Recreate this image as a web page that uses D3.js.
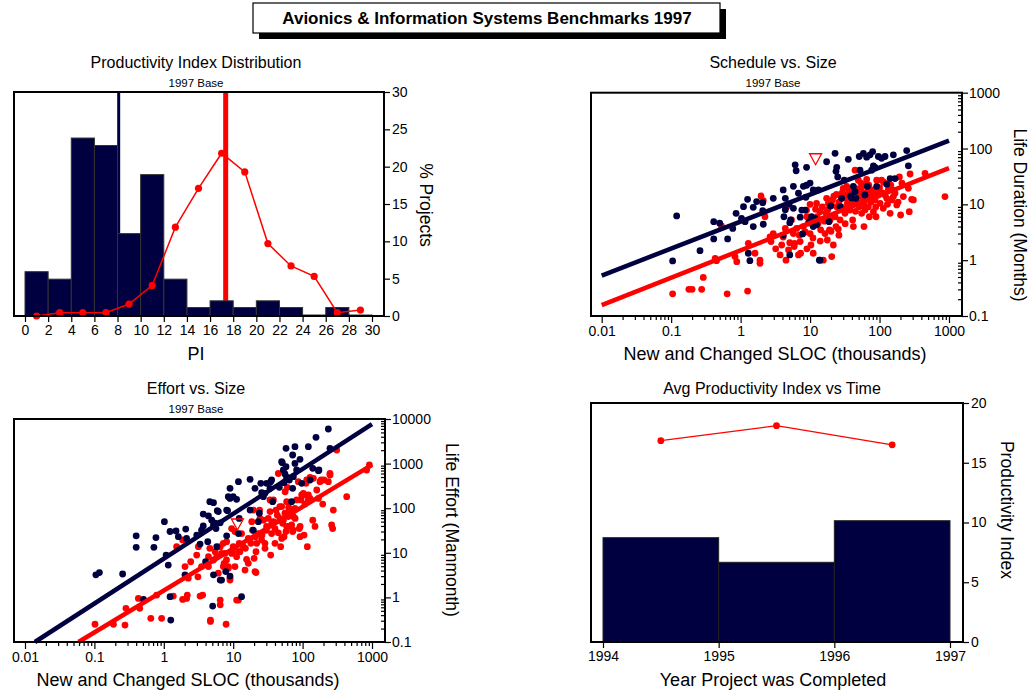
<!DOCTYPE html>
<html>
<head>
<meta charset="utf-8">
<script src="https://cdn.jsdelivr.net/npm/d3@7"></script>
<style>
  body { margin: 0; background: #fff; }
  text { font-family: "Liberation Sans", Arial, sans-serif; fill: #000; }
</style>
</head>
<body>
<svg id="chart" width="1029" height="691"></svg>
<script>
// ---- data ----

// Productivity Index Distribution (bins of width 2)
const piBinStart = [0, 2, 4, 6, 8, 10, 12, 14, 16, 18, 20, 22, 24, 26, 28];
const piPct = [5.8, 4.8, 23.7, 22.7, 10.9, 18.8, 4.8, 1, 1.9, 1, 1.9, 1, 0, 1, 0];
const piCurveX = [1, 3, 5, 7, 9, 11, 13, 15, 17, 19, 21, 23, 25, 27, 29];
const piCurvePct = [0, 0.45, 0.45, 0.45, 1.6, 4.1, 11.9, 17.1, 21.8, 19.3, 9.7, 6.7, 5.3, 0.45, 0.8];
const piMeanNavy = 8.1;
const piMeanRed = 17.35;
const piTicksX = [0, 2, 4, 6, 8, 10, 12, 14, 16, 18, 20, 22, 24, 26, 28, 30];
const piTicksY = [0, 5, 10, 15, 20, 25, 30];

// Schedule vs. Size  [SLOC thousands, months]
const scheduleNavy = [[0.12,6.2],[0.105,0.97],[0.26,1.48],[0.41,4.9],[0.5,4.6],[0.41,2.4],[0.65,2.4],[0.77,3.7],[0.86,6.9],[1.1,9.1],[1.03,5.6],[1.26,12.3],[1.16,4.9],[1.52,4.0],[1.52,8.85],[1.7,11.2],[2.08,10.7],[2.12,4.4],[2.08,7.7],[2.95,12.8],[4.1,18.1],[4.4,12.8],[5.0,10.2],[4.2,6.0],[5.1,4.7],[5.25,5.25],[5.75,21],[6.1,51],[6.3,40],[8.9,46],[6.8,15.8],[7.2,5.9],[7.6,7.9],[8.0,21],[7.8,2.95],[8.5,7.9],[8.9,22],[8.7,13.4],[10,24],[10.5,6.0],[11.1,18.1],[11.1,4.0],[11.8,5.6],[12.4,4.3],[13.2,18.1],[13.6,1.0],[13.9,1.0],[17.3,58],[18.7,4.9],[19.8,9.35],[22.9,82],[23.6,39],[24.2,46],[25,31],[27,9.1],[28.5,12.8],[31,27],[35.5,64],[38.4,14.1],[39.7,12.8],[42,21],[44.4,16.9],[45.8,12.8],[51,72],[52.4,41],[58.5,82],[61.8,14.7],[65.3,70],[66.7,21],[73,77],[77,41],[79.6,88],[81.5,49],[86,46],[91,21],[96,72],[107,67],[120,72],[127,23],[142,29],[158,77],[167,29],[246,92],[260,49],[1.29,1.33],[1.36,0.98],[5.1,1.24],[4.1,2.8],[9.8,4.9],[5.75,8.5],[4.4,8]];
const scheduleRed = [[0.29,0.49],[0.43,1.08],[0.45,0.98],[0.53,4.1],[0.83,1.16],[0.88,0.94],[1.29,2.0],[1.61,1.33],[1.9,1.0],[1.9,0.88],[1.97,14.1],[2.12,11.7],[2.24,6.0],[2.65,2.6],[2.74,2.15],[2.95,3.0],[3.7,1.24],[3.9,1.87],[4.1,2.6],[4.4,3.7],[4.6,9.1],[4.9,1.52],[5.1,2.06],[5.4,5.25],[5.75,3.0],[5.9,1.75],[6.4,3.7],[6.8,1.24],[7.2,2.15],[7.3,1.33],[8.0,4.0],[8.5,3.2],[8.9,7.9],[9.4,4.6],[10,3.0],[10.3,1.87],[11.1,1.33],[11.8,5.25],[12.4,10.4],[12.7,6.0],[13.9,7.4],[14.2,3.5],[15.5,1.0],[16.4,3.0],[17.3,12.8],[17.7,2.3],[18.3,10.4],[19.4,5.25],[20.5,1.16],[21.6,1.87],[22.9,6.0],[23.6,4.0],[24.2,9.1],[25.5,3.6],[27,5.25],[28.5,12.8],[30,19.4],[31.8,6.9],[33.7,21],[34.4,10.4],[37.6,7.9],[39.7,13.8],[41,5.25],[42,4.0],[44.4,41],[45.8,12],[49.5,27],[51,9.1],[52.4,16.9],[55.3,6.9],[58.5,12.8],[59.7,4.0],[61.8,15.8],[65.3,28],[69,9.1],[71.3,6.0],[73,13.8],[77,18.1],[81.5,7.4],[86,12],[89,6.0],[91,27],[96,14.7],[102,10.4],[107,27],[113,8.5],[120,14.7],[127,12.8],[134,18.6],[142,6.9],[150,12],[158,13.8],[167,15.8],[177,9.75],[193,31],[201,6.45],[220,13.8],[260,19.4],[268,7.4],[275,35],[290,12.3],[307,12],[452,36],[875,13.8],[0.105,0.25],[0.18,0.3],[0.2,0.3],[0.275,0.3],[0.64,0.25],[1.26,0.28],[22,14],[26,11],[30,8.5],[35,15],[40,18],[47,11],[55,20],[60,9.5],[68,17],[75,11],[85,15],[95,19],[110,16],[63,22],[52,14],[38,9.8],[29,16],[20,10.5],[17,7],[15,9],[12,8.2],[10,10],[9,6],[14,2.2],[11,2.5],[20,3.3],[32,4.5],[45,7.5],[26,2.8],[18,8],[21,12],[24,15],[28,9],[33,13],[36,17],[43,10],[48,19],[54,24],[57,11],[62,8],[70,22],[80,16],[88,9],[100,20],[115,25],[130,10],[145,22],[160,18],[185,11],[210,24],[16,5],[19,3.5],[13,4.5],[7,2.8],[6,2],[9,1.6],[3.2,1.6],[4.5,1.0]];
const scheduleFitNavy = [[0.01, 0.53], [1000, 139]];
const scheduleFitRed = [[0.01, 0.157], [1000, 44.4]];
const scheduleMarker = [12, 63];

// Effort vs. Size  [SLOC thousands, manmonths]
const effortNavy = [[0.105,3.2],[0.118,3.6],[0.255,3.35],[0.4,24],[0.4,13.3],[0.77,22],[0.72,13.3],[1.02,50],[1.23,30],[1.08,8.9],[1.16,5.3],[1.5,31],[1.62,23],[2.07,34],[2.13,21],[2.02,3.2],[2.98,25],[3.33,15.7],[3.7,40],[3.7,74],[4.4,67],[4.6,140],[4.9,54],[5.2,42],[5.65,35],[5.8,13.7],[6.1,84],[6.5,47],[8.05,91],[9.0,166],[9.0,279],[10,181],[11.2,158],[11.9,394],[11.9,27],[12.2,59],[9.0,3.0],[13.2,1.04],[5.2,3.2],[6.5,2.45],[5.06,0.64],[17.5,444],[19.5,32],[20.6,279],[23,50],[23.8,77],[25.7,223],[27.2,181],[30.3,361],[33.9,279],[35.8,429],[37,140],[46.2,294],[49.9,1100],[52.8,719],[54,374],[55.7,585],[57.7,853],[58.9,467],[60.3,492],[64.4,429],[69.5,140],[71.9,279],[73.5,509],[57.7,2200],[71.9,1560],[77.6,2400],[77.6,1010],[82,719],[91.7,1250],[97,361],[121,2400],[128,429],[156,3880],[172,719],[235,5970],[248,2200],[1.23,1.04],[0.51,0.9],[1.26,0.31],[5.2,133],[5.9,88],[5.5,46],[3.5,32],[4.3,17.8],[4.0,6.3],[6.8,2.45],[7.8,3.8],[140,783],[169,695],[34.7,394],[25,361],[8.5,181],[28.7,215],[17.5,91],[51,1050],[8.3,88],[8.05,24]];
const effortRed = [[0.102,0.25],[0.188,0.25],[0.276,0.24],[0.285,0.57],[0.45,0.57],[0.43,0.95],[0.65,0.34],[0.93,0.34],[0.79,1.13],[1.37,1.07],[1.53,13.7],[1.87,19.4],[2.13,0.95],[2.02,4.9],[1.87,0.9],[2.18,1.13],[2.25,2.7],[2.44,6.3],[2.98,8.9],[3.15,13.7],[3.63,1.13],[4.4,4.9],[4.6,12.6],[4.7,0.31],[5.2,6.9],[5.8,8.2],[6.1,3.5],[6.5,13.7],[6.5,0.68],[6.5,0.87],[6.8,9.7],[7.2,16.3],[7.4,5.8],[7.6,9.7],[7.9,0.25],[8.05,17.8],[8.5,4.9],[9.0,2.7],[9.5,35],[9.8,10.6],[10,13.7],[10.6,30],[11.2,8.2],[11.2,0.87],[12.2,16.3],[12.5,10.6],[13.2,27],[14,13.7],[14.8,4.1],[15.6,7.1],[16.5,21],[17.5,19.4],[18.5,50],[19,32],[19.5,91],[20,7.5],[21.3,10.6],[21.3,3.6],[21.8,16.3],[23,27],[24.3,59],[25.7,19.4],[27.2,54],[28.7,16.3],[30.3,39],[32,59],[33.9,153],[34.7,8.9],[35.8,27],[37.9,50],[40,35],[41.4,91],[43.2,70],[44.7,28],[47.2,59],[48.3,13.7],[49.9,108],[51.6,46],[52.8,54],[54,23],[55.7,77],[57.7,30],[58.9,140],[60.3,294],[62.2,65],[64.4,39],[65.8,91],[69.5,42],[71.9,30],[73.5,65],[77.6,99],[82,153],[86.7,394],[89.7,35],[91.7,23],[97,198],[102.5,215],[105,25],[108,124],[112,361],[114.5,429],[117,13.7],[121,198],[128,166],[140,54],[143,467],[151,39],[160,256],[169,166],[178,394],[195,124],[203,429],[235,394],[248,555],[262,42],[271,35],[277,91],[310,2020],[432,181],[837,719],[916,930],[3.33,1.07],[4.7,0.29],[11.9,0.87],[9,2.45],[44.7,600],[128,492],[248,600],[185,429],[108,198],[121,153],[95,153],[63,104],[59,77],[78,59],[47,54],[36,46],[30,32],[26,25],[21,23],[18,16.3],[15,12.6],[12,10.6],[9.5,9.7],[8,6.9],[7.2,4.9],[5.5,10.6],[4.4,8.2],[3.5,4.9],[3.1,2.9],[8.5,4.5],[10.6,4.9],[16.5,5.8],[20.6,3.8],[28.7,12.6],[40,16.3],[50,21],[59,39],[73,32],[92,39],[47,108],[34,84],[24,91],[38,153],[56,234]];
const effortFitNavy = [[0.0139, 0.1], [1000, 7700]];
const effortFitRed = [[0.059, 0.1], [1000, 935]];
const effortMarker = [11.5, 42];

// Avg Productivity Index vs Time
const yearStart = [1994, 1995, 1996];
const yearPI = [8.73, 6.67, 10.15];
const yearMid = [1994.5, 1995.5, 1996.5];
const yearRedPI = [16.85, 18.1, 16.5];
const yearTicks = [1994, 1995, 1996, 1997];
const yearTicksY = [0, 5, 10, 15, 20];

const logTicksX = [0.01, 0.1, 1, 10, 100, 1000];
const logTicksSchedY = [0.1, 1, 10, 100, 1000];
const logTicksEffortY = [0.1, 1, 10, 100, 1000, 10000];

const NAVY = "#000040";
const RED = "#ff0000";

const svg = d3.select("#chart");

// ---- main title box ----
svg.append("rect").attr("x", 259).attr("y", 9).attr("width", 467).attr("height", 30).attr("fill", "#000");
svg.append("rect").attr("x", 253).attr("y", 3).attr("width", 467).attr("height", 30)
  .attr("fill", "#fff").attr("stroke", "#000").attr("stroke-width", 1.2);
svg.append("text").attr("x", 487).attr("y", 24).attr("text-anchor", "middle")
  .style("font-size", "17px").style("font-weight", "bold")
  .text("Avionics & Information Systems Benchmarks 1997");

// helpers
function frame(x0, y0, x1, y1) {
  svg.append("rect").attr("x", x0).attr("y", y0).attr("width", x1 - x0).attr("height", y1 - y0)
    .attr("fill", "none").attr("stroke", "#000").attr("stroke-width", 2);
}
function titles(cx, yTitle, title, sub) {
  svg.append("text").attr("x", cx).attr("y", yTitle).attr("text-anchor", "middle")
    .style("font-size", "16px").text(title);
  if (sub) svg.append("text").attr("x", cx).attr("y", yTitle + 19).attr("text-anchor", "middle")
    .style("font-size", "11.5px").text(sub);
}
function xTitle(cx, y, t) {
  svg.append("text").attr("x", cx).attr("y", y).attr("text-anchor", "middle")
    .style("font-size", "18px").text(t);
}
function yTitle(x, cy, t) {
  svg.append("text").attr("transform", `translate(${x},${cy}) rotate(90)`)
    .attr("text-anchor", "middle").style("font-size", "17.5px").text(t);
}
function styleAxis(g) {
  g.select(".domain").attr("stroke", "#000").attr("stroke-width", 2);
  g.selectAll(".tick line").attr("stroke", "#000").attr("stroke-width", 1.2);
  g.selectAll(".tick text").style("font-size", "14px").attr("fill", "#000");
}
function minorLogTicks(lo, hi) {
  const out = [];
  for (let d = lo; d < hi; d *= 10) for (let k = 2; k <= 9; k++) out.push(d * k);
  return out;
}
function dots(g, data, x, y, color) {
  g.selectAll(null).data(data).join("circle")
    .attr("cx", d => x(d[0])).attr("cy", d => y(d[1])).attr("r", 3.4).attr("fill", color);
}
function fit(g, data, x, y, color) {
  g.append("path").datum(data)
    .attr("d", d3.line().x(d => x(d[0])).y(d => y(d[1])))
    .attr("stroke", color).attr("stroke-width", 4.5).attr("fill", "none");
}
function marker(g, d, x, y) {
  const cx = x(d[0]), cy = y(d[1]);
  g.append("path").attr("d", `M${cx - 6},${cy - 6}L${cx + 6},${cy - 6}L${cx},${cy + 5}Z`)
    .attr("fill", "none").attr("stroke", RED).attr("stroke-width", 1.3);
}

// ---- panel 1: Productivity Index Distribution ----
{
  const L = 14, T = 92, R = 384, B = 316;
  const x = d3.scaleLinear().domain([0, 30]).range([25, 372]);
  const y = d3.scaleLinear().domain([0, 30]).range([B, T]);
  titles(196, 68, "Productivity Index Distribution", "1997 Base");
  svg.append("line").attr("x1", x(piMeanNavy)).attr("x2", x(piMeanNavy)).attr("y1", T).attr("y2", B)
    .attr("stroke", NAVY).attr("stroke-width", 3);
  svg.append("line").attr("x1", x(piMeanRed)).attr("x2", x(piMeanRed)).attr("y1", T).attr("y2", B)
    .attr("stroke", RED).attr("stroke-width", 5);
  svg.selectAll(null).data(piBinStart).join("rect")
    .attr("x", d => x(d)).attr("width", d => x(d + 2) - x(d))
    .attr("y", (d, i) => y(piPct[i]) - 1).attr("height", (d, i) => B - y(piPct[i]) + 1)
    .attr("fill", NAVY).attr("stroke", "#333").attr("stroke-width", 1);
  const pts = piCurveX.map((v, i) => [v, piCurvePct[i]]);
  svg.append("path").datum(pts).attr("d", d3.line().x(d => x(d[0])).y(d => y(d[1])))
    .attr("fill", "none").attr("stroke", RED).attr("stroke-width", 1.5);
  svg.selectAll(null).data(pts).join("circle")
    .attr("cx", d => x(d[0])).attr("cy", d => y(d[1])).attr("r", 3.6).attr("fill", RED);
  frame(L, T, R, B);
  svg.append("g").attr("transform", `translate(0,${B})`)
    .call(d3.axisBottom(x).tickValues(piTicksX).tickSize(6).tickSizeOuter(0).tickPadding(3))
    .call(styleAxis).call(g => g.select(".domain").remove());
  svg.append("g").attr("transform", `translate(${R},0)`)
    .call(d3.axisRight(y).tickValues(piTicksY).tickSize(6).tickSizeOuter(0).tickPadding(2))
    .call(styleAxis).call(g => g.select(".domain").remove());
  xTitle(196, 360, "PI");
  yTitle(420, 205, "% Projects");
}

// ---- panel 2: Schedule vs. Size ----
{
  const L = 591, T = 92.7, R = 962, B = 316;
  const x = d3.scaleLog().domain([0.01, 1000]).range([601.7, 949]);
  const y = d3.scaleLog().domain([0.1, 1000]).range([B, T]);
  titles(773, 68, "Schedule vs. Size", "1997 Base");
  const g = svg.append("g");
  dots(g, scheduleRed, x, y, RED);
  dots(g, scheduleNavy, x, y, NAVY);
  fit(g, scheduleFitRed, x, y, RED);
  fit(g, scheduleFitNavy, x, y, NAVY);
  marker(g, scheduleMarker, x, y);
  frame(L, T, R, B);
  svg.append("g").attr("transform", `translate(0,${B})`)
    .call(d3.axisBottom(x).tickValues(minorLogTicks(0.01, 1000)).tickSize(4).tickFormat(""))
    .call(styleAxis).call(g => g.select(".domain").remove());
  svg.append("g").attr("transform", `translate(0,${B})`)
    .call(d3.axisBottom(x).tickValues(logTicksX).tickSize(7).tickPadding(3).tickFormat(d3.format("~g")))
    .call(styleAxis).call(g => g.select(".domain").remove());
  svg.append("g").attr("transform", `translate(${R},0)`)
    .call(d3.axisRight(y).tickValues(minorLogTicks(0.1, 1000)).tickSize(-4).tickFormat(""))
    .call(styleAxis).call(g => g.select(".domain").remove());
  svg.append("g").attr("transform", `translate(${R},0)`)
    .call(d3.axisRight(y).tickValues(logTicksSchedY).tickSize(6).tickPadding(1).tickFormat(d3.format("~g")))
    .call(styleAxis).call(g => g.select(".domain").remove());
  xTitle(775, 360, "New and Changed SLOC (thousands)");
  yTitle(1014, 215, "Life Duration (Months)");
}

// ---- panel 3: Effort vs. Size ----
{
  const L = 14, T = 419, R = 385, B = 642;
  const x = d3.scaleLog().domain([0.01, 1000]).range([25, 372]);
  const y = d3.scaleLog().domain([0.1, 10000]).range([B, T]);
  titles(196, 394, "Effort vs. Size", "1997 Base");
  const g = svg.append("g");
  dots(g, effortRed, x, y, RED);
  dots(g, effortNavy, x, y, NAVY);
  fit(g, effortFitRed, x, y, RED);
  fit(g, effortFitNavy, x, y, NAVY);
  marker(g, effortMarker, x, y);
  frame(L, T, R, B);
  svg.append("g").attr("transform", `translate(0,${B})`)
    .call(d3.axisBottom(x).tickValues(minorLogTicks(0.01, 1000)).tickSize(4).tickFormat(""))
    .call(styleAxis).call(g => g.select(".domain").remove());
  svg.append("g").attr("transform", `translate(0,${B})`)
    .call(d3.axisBottom(x).tickValues(logTicksX).tickSize(7).tickPadding(3).tickFormat(d3.format("~g")))
    .call(styleAxis).call(g => g.select(".domain").remove());
  svg.append("g").attr("transform", `translate(${R},0)`)
    .call(d3.axisRight(y).tickValues(minorLogTicks(0.1, 10000)).tickSize(-4).tickFormat(""))
    .call(styleAxis).call(g => g.select(".domain").remove());
  svg.append("g").attr("transform", `translate(${R},0)`)
    .call(d3.axisRight(y).tickValues(logTicksEffortY).tickSize(6).tickPadding(1).tickFormat(d3.format("~g")))
    .call(styleAxis).call(g => g.select(".domain").remove());
  xTitle(188, 686, "New and Changed SLOC (thousands)");
  yTitle(446, 530, "Life Effort (Manmonth)");
}

// ---- panel 4: Avg Productivity Index vs Time ----
{
  const L = 591, T = 403, R = 963, B = 642;
  const x = d3.scaleLinear().domain([1994, 1997]).range([603, 950]);
  const y = d3.scaleLinear().domain([0, 20]).range([B, T]);
  titles(772, 394, "Avg Productivity Index vs Time", null);
  svg.selectAll(null).data(yearStart).join("rect")
    .attr("x", d => x(d)).attr("width", d => x(d + 1) - x(d))
    .attr("y", (d, i) => y(yearPI[i])).attr("height", (d, i) => B - y(yearPI[i]))
    .attr("fill", NAVY).attr("stroke", "#222").attr("stroke-width", 1);
  const pts = yearMid.map((v, i) => [v, yearRedPI[i]]);
  svg.append("path").datum(pts).attr("d", d3.line().x(d => x(d[0])).y(d => y(d[1])))
    .attr("fill", "none").attr("stroke", RED).attr("stroke-width", 1.3);
  svg.selectAll(null).data(pts).join("circle")
    .attr("cx", d => x(d[0])).attr("cy", d => y(d[1])).attr("r", 3.4).attr("fill", RED);
  frame(L, T, R, B);
  svg.append("g").attr("transform", `translate(0,${B})`)
    .call(d3.axisBottom(x).tickValues(yearTicks).tickSize(6).tickPadding(3).tickFormat(d3.format("d")))
    .call(styleAxis).call(g => g.select(".domain").remove());
  svg.append("g").attr("transform", `translate(${R},0)`)
    .call(d3.axisRight(y).tickValues(yearTicksY).tickSize(6).tickPadding(2))
    .call(styleAxis).call(g => g.select(".domain").remove());
  xTitle(773, 686, "Year Project was Completed");
  yTitle(1001, 510, "Productivity Index");
}
</script>
</body>
</html>
